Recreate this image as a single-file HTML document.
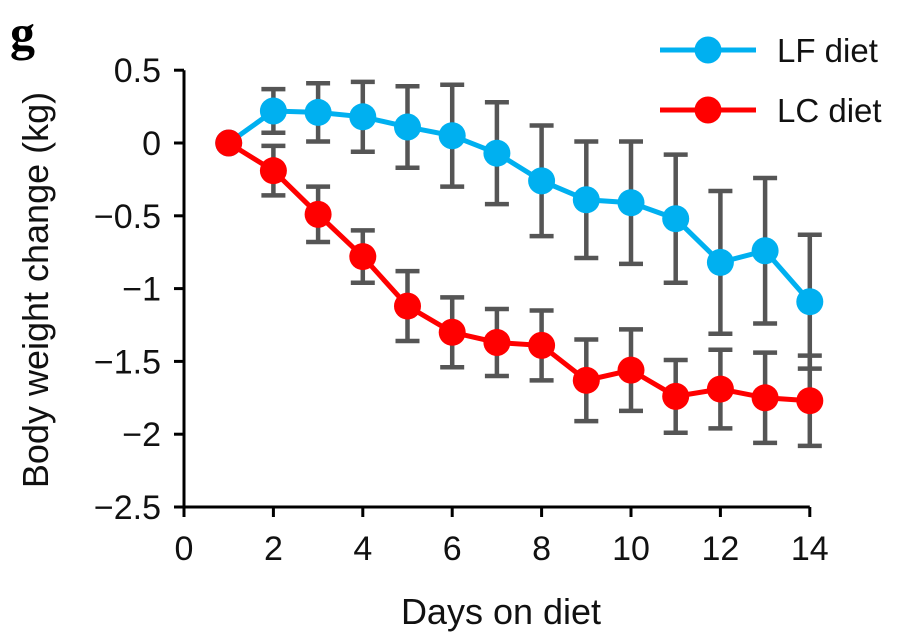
<!DOCTYPE html>
<html><head><meta charset="utf-8"><style>
html,body{margin:0;padding:0;background:#fff}
svg{display:block;font-family:"Liberation Sans",sans-serif}
</style></head><body>
<svg id="chart" width="909" height="644">
<text x="10" y="50" font-family="Liberation Serif" font-weight="bold" style="font-size:50px">g</text>
<g id="axes"></g>
<g id="bars"></g>
<g id="series"></g>
<g id="legend"></g>
<text transform="translate(48,290) rotate(-90)" text-anchor="middle" style="font-size:36px" fill="#111">Body weight change (kg)</text>
<text x="501" y="624" text-anchor="middle" style="font-size:36px" fill="#111">Days on diet</text>
</svg>
<script>
const days=[1,2,3,4,5,6,7,8,9,10,11,12,13,14];
const lfMean=[0,0.22,0.21,0.18,0.11,0.05,-0.07,-0.26,-0.39,-0.41,-0.52,-0.82,-0.74,-1.09];
const lfErr=[0,0.15,0.2,0.24,0.28,0.35,0.35,0.38,0.4,0.42,0.44,0.49,0.5,0.46];
const lcMean=[0,-0.19,-0.49,-0.78,-1.12,-1.3,-1.37,-1.39,-1.63,-1.56,-1.74,-1.69,-1.75,-1.77];
const lcErr=[0,0.17,0.19,0.18,0.24,0.24,0.23,0.24,0.28,0.28,0.25,0.27,0.31,0.31];
const yTicks=[0.5,0,-0.5,-1,-1.5,-2,-2.5];
const yTickLabels=["0.5","0","\u22120.5","\u22121","\u22121.5","\u22122","\u22122.5"];
const xTicks=[0,2,4,6,8,10,12,14];
const NS="http://www.w3.org/2000/svg";
const X=v=>184+v*44.7;
const Y=v=>143-v*145.6;
function mk(tag,attrs,parent){const e=document.createElementNS(NS,tag);for(const k in attrs)e.setAttribute(k,attrs[k]);parent.appendChild(e);return e;}
const axes=document.getElementById('axes');
let a=mk('path',{d:`M${X(0)},${Y(0.5)}V${Y(-2.5)}`,stroke:'#000','stroke-width':3,fill:'none'},axes);


a=mk('path',{d:`M${X(0)},${Y(-2.5)}H${X(14)}`,stroke:'#000','stroke-width':3,fill:'none'},axes);


yTicks.forEach((t,i)=>{
  mk('line',{x1:X(0)-10,x2:X(0),y1:Y(t),y2:Y(t),stroke:'#000','stroke-width':3},axes);
  const tx=mk('text',{x:X(0)-23,y:Y(t)+12,'text-anchor':'end',style:'font-size:34px',fill:'#111'},axes);
  tx.textContent=yTickLabels[i];
  
  
});
xTicks.forEach(t=>{
  mk('line',{x1:X(t),x2:X(t),y1:Y(-2.5),y2:Y(-2.5)+10,stroke:'#000','stroke-width':3},axes);
  const tx=mk('text',{x:X(t),y:Y(-2.5)+53,'text-anchor':'middle',style:'font-size:34px',fill:'#111'},axes);
  tx.textContent=String(t);
  
  
});
const bars=document.getElementById('bars');
function errs(mean,err,name){
  days.forEach((d,i)=>{
    if(!err[i])return;
    const x=X(d),y1=Y(mean[i]+err[i]),y2=Y(mean[i]-err[i]);
    const p=mk('path',{d:`M${x},${y1}V${y2}M${x-12},${y1}H${x+12}M${x-12},${y2}H${x+12}`,stroke:'#555','stroke-width':4.5,fill:'none'},bars);
    
    
  });
}
errs(lfMean,lfErr,'lf');errs(lcMean,lcErr,'lc');
const ser=document.getElementById('series');
function series(mean,color,name){
  const l=mk('polyline',{points:days.map((d,i)=>X(d)+','+Y(mean[i])).join(' '),stroke:color,'stroke-width':5,fill:'none'},ser);
  
  
  days.forEach((d,i)=>{
    const c=mk('circle',{cx:X(d),cy:Y(mean[i]),r:13.5,fill:color},ser);
    
    
  });
}
series(lfMean,'#00b0f0','lf');series(lcMean,'#ff0000','lc');
const lg=document.getElementById('legend');
[['LF diet','#00b0f0',50],['LC diet','#ff0000',110]].forEach(([t,c,y])=>{
  const g=mk('g',{},lg);
  
  
  mk('line',{x1:660,x2:756,y1:y,y2:y,stroke:c,'stroke-width':5},g);
  mk('circle',{cx:708,cy:y,r:13.5,fill:c},g);
  const tx=mk('text',{x:777,y:y+12,style:'font-size:33px',fill:'#111'},g);
  tx.textContent=t;
});
</script>
</body></html>
